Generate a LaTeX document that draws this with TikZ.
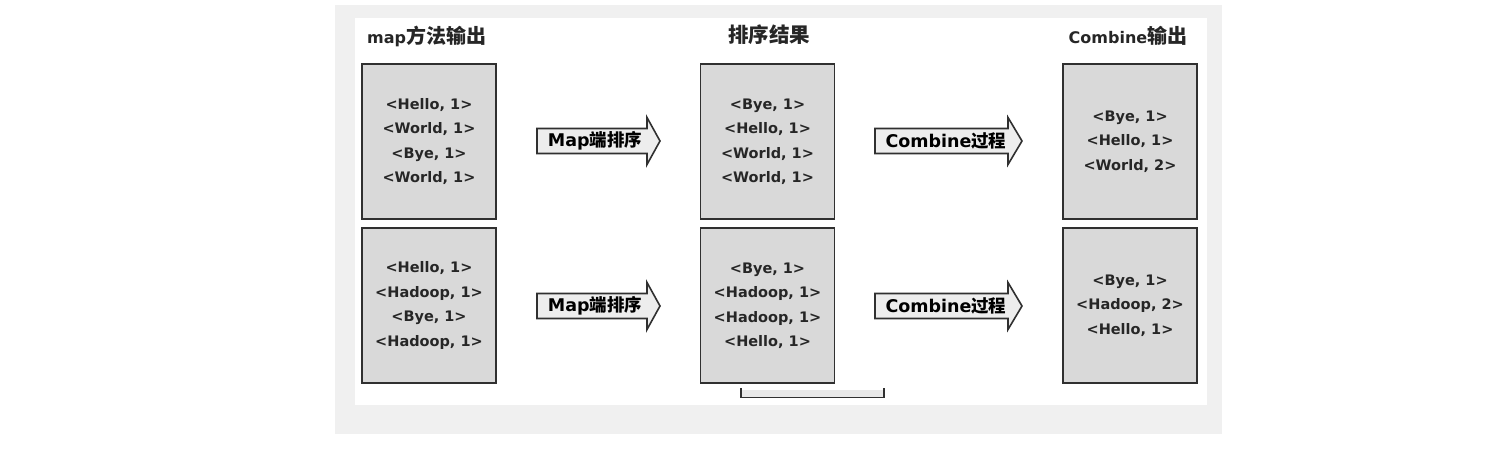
\documentclass[tikz,border=0pt]{standalone}
\usepackage{fontspec}
\setmainfont{DejaVu Sans}
\newfontfamily\cjk{Noto Sans CJK SC}
\definecolor{boxfill}{HTML}{D9D9D9}
\definecolor{boxline}{HTML}{303030}
\definecolor{txt}{HTML}{262626}
\definecolor{bggray}{HTML}{F0F0F0}
\definecolor{arrowfill}{HTML}{EDEDED}
\begin{document}
\begin{tikzpicture}[x=1pt,y=-1pt,
  databox/.style={draw=boxline,line width=1.8pt,fill=boxfill,minimum width=134pt,minimum height=155pt,inner sep=0pt,align=center,text=txt,font=\bfseries\fontsize{14.5}{24.5}\selectfont},
  arrowbody/.style={draw=boxline,line width=1.6pt,fill=arrowfill,line join=miter},
  arrowtext/.style={inner sep=0pt,text=black,font=\bfseries\fontsize{17.5}{19}\selectfont},
  title/.style={inner sep=0pt,text=txt,font=\bfseries\fontsize{16}{18}\selectfont}]
\useasboundingbox (0,0) rectangle (1486,452);
\fill[bggray] (335,5) rectangle (1222,434);
\fill[white] (355,18) rectangle (1207,405);
% titles
\node[title,anchor=west] (t1) at (367,36) {map{\cjk\fontsize{20}{22}\selectfont 方法输出}};
\node[title] (t2) at (769,35) {\cjk\fontsize{20.5}{22}\selectfont 排序结果};
\node[title] (t3) at (1128,36) {Combine{\cjk\fontsize{20}{22}\selectfont 输出}};
% boxes
\node[databox] (a1) at (429,141.5) {<Hello, 1>\\<World, 1>\\<Bye, 1>\\<World, 1>};
\node[databox] (a2) at (429,305.5) {<Hello, 1>\\<Hadoop, 1>\\<Bye, 1>\\<Hadoop, 1>};
\node[databox] (b1) at (767.5,141.5) {<Bye, 1>\\<Hello, 1>\\<World, 1>\\<World, 1>};
\node[databox] (b2) at (767.5,305.5) {<Bye, 1>\\<Hadoop, 1>\\<Hadoop, 1>\\<Hello, 1>};
\node[databox] (c1) at (1130,141.5) {<Bye, 1>\\<Hello, 1>\\<World, 2>};
\node[databox] (c2) at (1130,305.5) {<Bye, 1>\\<Hadoop, 2>\\<Hello, 1>};
% block arrows
\foreach \yc/\nm in {141/1,306/2}{
  \draw[arrowbody] (537,\yc-12.5) -- (647,\yc-12.5) -- (647,\yc-23.5) -- (660,\yc) -- (647,\yc+23.5) -- (647,\yc+12.5) -- (537,\yc+12.5) -- cycle;
  \node[arrowtext] (m\nm) at (595,\yc) {Map{\cjk 端排序}};
  \draw[arrowbody] (875,\yc-12.5) -- (1008,\yc-12.5) -- (1008,\yc-23.5) -- (1022,\yc) -- (1008,\yc+23.5) -- (1008,\yc+12.5) -- (875,\yc+12.5) -- cycle;
  \node[arrowtext] (k\nm) at (946,\yc) {Combine{\cjk 过程}};
}
% bracket below middle column
\fill[boxfill!60] (741,390) rectangle (884,397.5);
\draw[boxline,line width=1.5pt] (741,388) -- (741,397.5) -- (884,397.5) -- (884,388);
\end{tikzpicture}
\end{document}
